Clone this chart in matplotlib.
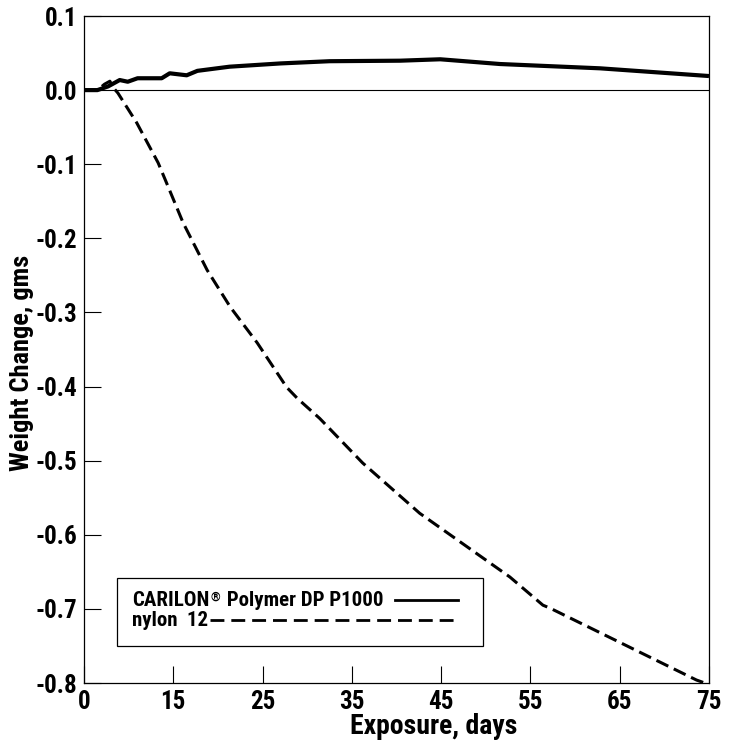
import matplotlib
matplotlib.use('Agg')
import matplotlib.pyplot as plt
from matplotlib.patches import Rectangle
from matplotlib.lines import Line2D

plt.rcParams['font.family'] = ['Roboto Condensed', 'DejaVu Sans']
plt.rcParams['font.stretch'] = 'condensed'
plt.rcParams['font.weight'] = 'bold'
plt.rcParams['axes.unicode_minus'] = False

# Valores (eixo x deslocado: borda esquerda = "0")
carilon_x = [5, 6.5, 7.7, 9.0, 9.9, 11.0, 13.7, 14.6, 16.5, 17.7, 21.3, 27.0, 32.5, 40.4, 44.9, 51.6, 62.8, 75]
carilon_y = [0.0, 0.0, 0.005, 0.0136, 0.0113, 0.016, 0.016, 0.0227, 0.020, 0.026, 0.0316, 0.036, 0.039, 0.0397, 0.0416, 0.0352, 0.0294, 0.019]

nylon_x = [5, 6.5, 7.3, 7.9, 8.3, 8.8, 10.9, 13.3, 14.1, 16.1, 18.8, 21.4, 24.4, 27.7, 28.9, 31.4, 36.2, 42.6, 52.7, 56.4, 57.2, 73.6, 75]
nylon_y = [0.0, 0.0, 0.008, 0.012, 0.003, -0.004, -0.044, -0.098, -0.121, -0.179, -0.243, -0.293, -0.341, -0.401, -0.416, -0.443, -0.503, -0.571, -0.657, -0.695, -0.699, -0.796, -0.802]

x_ticks = [5, 15, 25, 35, 45, 55, 65, 75]
x_tick_labels = ['0', '15', '25', '35', '45', '55', '65', '75']
y_ticks = [0.1, 0.0, -0.1, -0.2, -0.3, -0.4, -0.5, -0.6, -0.7, -0.8]

fig = plt.figure(figsize=(7.35, 7.45), dpi=100)
ax = fig.add_axes([84/735, 1-683/745, 625/735, 667/745])

ax.axhline(0, color='black', lw=0.8)
ax.plot(carilon_x, carilon_y, color='black', lw=3.0, solid_capstyle='butt')
ax.plot(nylon_x, nylon_y, color='black', lw=2.2, linestyle=(0, (4.3, 2.0)))

ax.set_xlim(5, 75)
ax.set_ylim(-0.8, 0.1)
ax.set_xticks(x_ticks)
ax.set_xticklabels(x_tick_labels)
ax.set_yticks(y_ticks)
ax.set_yticklabels(['%.1f' % v for v in y_ticks])
ax.tick_params(direction='in', length=12, width=0.8, labelsize=18, pad=5)
for s in ax.spines.values():
    s.set_linewidth(0.9)

ax.set_xlabel('Exposure, days', fontsize=20, fontweight='bold')
ax.set_ylabel('Weight Change, gms', fontsize=19, fontweight='bold')
ax.xaxis.set_label_coords(0.56, -0.045)
ax.yaxis.set_label_coords(-0.08, 0.48)

# Legenda desenhada manualmente
ax.add_patch(Rectangle((0.053, 0.0555), 0.585, 0.1015, transform=ax.transAxes,
                       facecolor='white', edgecolor='black', lw=0.9, zorder=5))
t1 = ax.text(0.077, 0.124, 'CARILON', transform=ax.transAxes, fontsize=15,
             va='center', ha='left', zorder=6)
ax.annotate('®', xy=(1, 1), xycoords=t1, xytext=(0.5, 0), textcoords='offset points',
            fontsize=9, va='top', ha='left', zorder=6)
ax.annotate(' Polymer DP P1000', xy=(1, 0), xycoords=t1, xytext=(9, 0),
            textcoords='offset points', fontsize=15, va='bottom', ha='left', zorder=6)
ax.text(0.077, 0.094, 'nylon  12', transform=ax.transAxes, fontsize=15,
        va='center', ha='left', zorder=6)
ax.add_line(Line2D([0.4976, 0.598], [0.124, 0.124], transform=ax.transAxes,
                   color='black', lw=2.0, zorder=6))
ax.add_line(Line2D([0.2016, 0.598], [0.094, 0.094], transform=ax.transAxes,
                   color='black', lw=2.0, linestyle=(0, (5, 2.5)), zorder=6))

plt.savefig('out.png', dpi=100)
